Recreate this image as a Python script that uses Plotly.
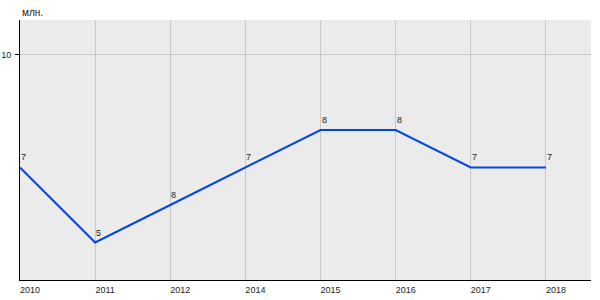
import plotly.graph_objects as go

years = ["2010", "2011", "2012", "2014", "2015", "2016", "2017", "2018"]
values = [7, 5, 6, 7, 8, 8, 7, 7]
labels = ["7", "5", "8", "7", "8", "8", "7", "7"]
y_ticks = [10]
unit_label = "млн."

idx = list(range(len(years)))

fig = go.Figure()
fig.add_trace(go.Scatter(
    x=idx, y=values, mode="lines",
    line=dict(color="#0046e6", width=2),
    hoverinfo="skip", cliponaxis=False,
))

annotations = [dict(
    text=unit_label, xref="paper", yref="paper", x=0, y=1,
    xanchor="left", yanchor="bottom", yshift=0, showarrow=False,
    font=dict(size=10, color="#222222"),
)]
for i, v, t in zip(idx, values, labels):
    annotations.append(dict(
        text=t, x=i, y=v, xref="x", yref="y",
        xanchor="left", yanchor="bottom", xshift=-1, yshift=3,
        showarrow=False, font=dict(size=9, color="#222222"),
    ))

fig.update_layout(
    width=600, height=300,
    margin=dict(l=20, r=9, t=20, b=20),
    paper_bgcolor="white", plot_bgcolor="#ebebeb",
    showlegend=False,
    font=dict(family="Liberation Sans, Arial", size=9, color="#222222"),
    xaxis=dict(
        range=[0, 7.6], tickvals=idx, ticktext=years,
        showgrid=True, gridcolor="#c8c8c8", gridwidth=1,
        showline=True, linecolor="black", linewidth=1,
        ticks="", zeroline=False, ticklabelshift=10, ticklabelstandoff=1,
        tickfont=dict(size=9, color="#222222"), fixedrange=True,
        automargin=False,
    ),
    yaxis=dict(
        range=[4, 10.933], tickvals=y_ticks,
        showgrid=True, gridcolor="#c8c8c8", gridwidth=1,
        showline=True, linecolor="black", linewidth=1,
        ticks="outside", ticklen=4, tickcolor="black",
        zeroline=False, tickfont=dict(size=9, color="#222222"), fixedrange=True,
        automargin=False, ticklabelstandoff=2,
    ),
    annotations=annotations,
)

fig.write_html("out.html")
